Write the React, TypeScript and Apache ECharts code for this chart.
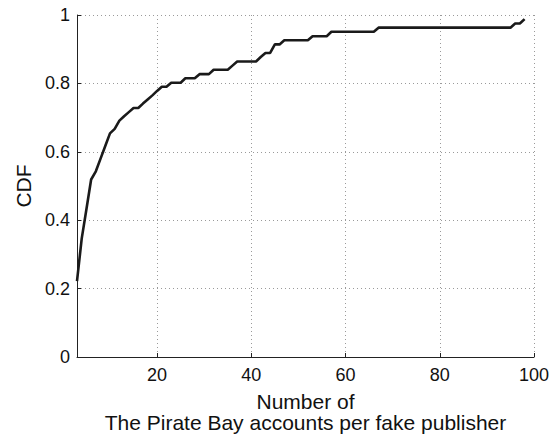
import React, { useEffect, useRef } from "react";
import * as echarts from "echarts";

const xValues = [3, 4, 5, 6, 7, 8, 9, 10, 11, 12, 13, 14, 15, 16, 17, 18, 19, 20, 21, 22, 23, 25, 26, 28, 29, 31, 32, 35, 36, 37, 41, 42, 43, 44, 45, 46, 47, 52, 53, 56, 57, 66, 67, 95, 96, 97, 98];
const cdfValues = [0.222, 0.346, 0.432, 0.519, 0.543, 0.58, 0.617, 0.654, 0.667, 0.691, 0.704, 0.716, 0.728, 0.728, 0.741, 0.753, 0.765, 0.778, 0.79, 0.79, 0.802, 0.802, 0.815, 0.815, 0.827, 0.827, 0.84, 0.84, 0.852, 0.864, 0.864, 0.877, 0.889, 0.889, 0.914, 0.914, 0.926, 0.926, 0.938, 0.938, 0.951, 0.951, 0.963, 0.963, 0.975, 0.975, 0.988];

const xAxisName = "Number of\nThe Pirate Bay accounts per fake publisher";
const yAxisName = "CDF";

export default function App() {
  const ref = useRef<HTMLDivElement>(null);

  useEffect(() => {
    if (!ref.current) return;
    const chart = echarts.init(ref.current, undefined, { renderer: "svg" });
    const font = "Liberation Sans, Arial, Helvetica, sans-serif";
    const gridLine = { show: true, lineStyle: { color: "#9a9a9a", width: 1, type: [1, 3] as any } };
    chart.setOption({
      animation: false,
      backgroundColor: "#ffffff",
      grid: { left: 77, right: 25, top: 15, bottom: 78, containLabel: false },
      xAxis: {
        type: "value",
        min: 3,
        max: 100,
        splitNumber: 5,
        name: xAxisName,
        nameLocation: "middle",
        nameGap: 34,
        nameTextStyle: { fontSize: 21, color: "#111", fontFamily: font, lineHeight: 21 },
        axisLine: { show: true, onZero: false, lineStyle: { color: "#222", width: 1 } },
        axisTick: { show: true, inside: true, length: 4, lineStyle: { color: "#222" } },
        axisLabel: { fontSize: 18, color: "#111", fontFamily: font, margin: 9, showMinLabel: false },
        splitLine: gridLine,
      },
      yAxis: {
        type: "value",
        min: 0,
        max: 1,
        interval: 0.2,
        name: yAxisName,
        nameLocation: "middle",
        nameGap: 43,
        nameTextStyle: { fontSize: 21, color: "#111", fontFamily: font },
        axisLine: { show: true, lineStyle: { color: "#222", width: 1 } },
        axisTick: { show: true, inside: true, length: 4, lineStyle: { color: "#222" } },
        axisLabel: { fontSize: 18, color: "#111", fontFamily: font, margin: 7 },
        splitLine: gridLine,
      },
      series: [
        {
          type: "line",
          data: xValues.map((x, i) => [x, cdfValues[i]]),
          showSymbol: false,
          symbol: "none",
          lineStyle: { color: "#1a1a1a", width: 2.6 },
          clip: false,
        },
      ],
    });
    return () => chart.dispose();
  }, []);

  return (
    <div
      ref={ref}
      style={{ position: "fixed", left: 0, top: 0, width: 559, height: 438, background: "#fff" }}
    />
  );
}
